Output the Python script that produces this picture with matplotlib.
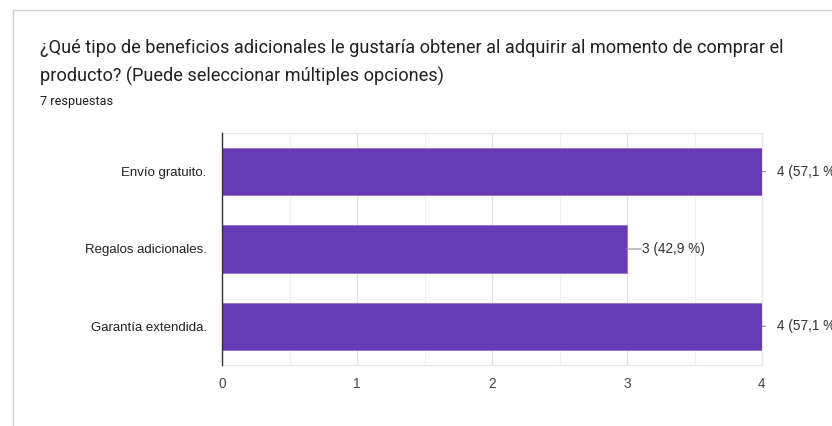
import matplotlib
matplotlib.use("Agg")
import matplotlib.pyplot as plt
from matplotlib.lines import Line2D

categories = ["Envío gratuito.", "Regalos adicionales.", "Garantía extendida."]
values = [4, 3, 4]
labels = ["4 (57,1 %)", "3 (42,9 %)", "4 (57,1 %)"]
xticks = [0, 1, 2, 3, 4]
title_lines = ["¿Qué tipo de beneficios adicionales le gustaría obtener al adquirir al momento de comprar el",
               "producto? (Puede seleccionar múltiples opciones)"]
subtitle = "7 respuestas"

plt.rcParams['font.family'] = ['Liberation Sans', 'DejaVu Sans']

fig = plt.figure(figsize=(8.32, 4.26), dpi=100)
W, H = 832, 426
ax = fig.add_axes([222 / W, 1 - 365 / H, 540 / W, 232 / H])

ypos = list(range(len(categories)))
ax.barh(ypos, values, height=0.61, color="#673ab7", edgecolor="#9575cd", linewidth=0.6, zorder=3)
ax.set_ylim(2.5, -0.5)
ax.set_xlim(0, 4)
ax.set_yticks(ypos)
ax.set_yticklabels(categories, fontsize=9.5, color="#222222")
ax.set_xticks(xticks)
ax.set_xticklabels([str(t) for t in xticks], fontsize=9.8, color="#444444")
ax.set_xticks([0.5, 1.5, 2.5, 3.5], minor=True)
ax.tick_params(axis="y", length=0, pad=11)
ax.tick_params(axis="x", which="both", length=0, pad=9)
ax.grid(axis="x", which="major", color="#e0e0e0", linewidth=0.9, zorder=0)
ax.grid(axis="x", which="minor", color="#f0f0f0", linewidth=0.9, zorder=0)
for s in ["top", "bottom", "right"]:
    ax.spines[s].set_color("#e6e6e6")
    ax.spines[s].set_linewidth(0.9)
ax.spines["left"].set_color("#333333")
ax.spines["left"].set_linewidth(1.0)
ax.spines["left"].set_zorder(4)

vmax = max(values)
for y, v, lab in zip(ypos, values, labels):
    lead = 2.5 if v == vmax else 10
    ax.annotate("", xy=(v, y), xytext=(lead, 0), textcoords="offset points",
                arrowprops=dict(arrowstyle="-", color="#999999", lw=0.9, shrinkA=0, shrinkB=0),
                annotation_clip=False)
    ax.annotate(lab, xy=(v, y), xytext=(10.5, 0), textcoords="offset points",
                ha="left", va="center", fontsize=9.8, color="#333333", annotation_clip=False)

fig.text(40 / W, 1 - 48 / H, title_lines[0], fontsize=13.1, color="#202124", va="center", ha="left",
         family="Roboto", fontstretch="normal")
fig.text(40 / W, 1 - 76 / H, title_lines[1], fontsize=13.1, color="#202124", va="center", ha="left",
         family="Roboto", fontstretch="normal")
fig.text(40 / W, 1 - 101 / H, subtitle, fontsize=9.2, color="#202124", va="center", ha="left",
         family="Roboto", fontstretch="normal")

fig.add_artist(Line2D([13 / W, 13 / W], [0, 1 - 10 / H], transform=fig.transFigure, color="#d0d0d0", lw=1))
fig.add_artist(Line2D([13 / W, 1], [1 - 10 / H, 1 - 10 / H], transform=fig.transFigure, color="#d0d0d0", lw=1))

fig.savefig("out.png", dpi=100)
